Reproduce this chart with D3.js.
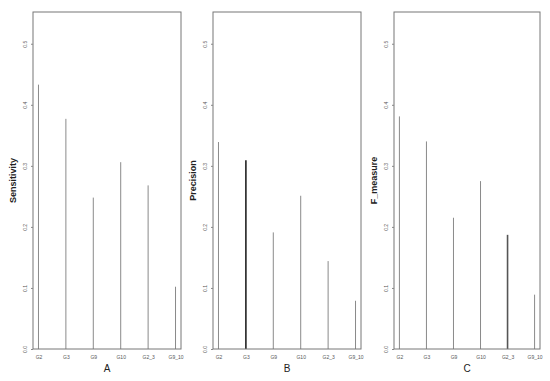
<!DOCTYPE html>
<html><head><meta charset="utf-8">
<script src="https://cdn.jsdelivr.net/npm/d3@7"></script>
<style>body{margin:0;background:#fff}svg{display:block}</style>
</head><body>
<svg id="c" width="550" height="381"></svg>
<script>
const categories = ["G2","G3","G9","G10","G2_3","G9_10"];
const sensitivity = [0.433,0.377,0.248,0.306,0.268,0.102];
const precision = [0.339,0.309,0.191,0.251,0.144,0.079];
const fmeasure = [0.381,0.340,0.215,0.275,0.187,0.089];
const yTicks = [0,0.1,0.2,0.3,0.4,0.5];
const panelNames = ["A","B","C"];
const yLabels = ["Sensitivity","Precision","F_measure"];

const panels = [
  {vals: sensitivity, left: 33, right: 181, hl: -1},
  {vals: precision, left: 213, right: 361, hl: 1},
  {vals: fmeasure, left: 394, right: 540, hl: 4}
];
const plotTop = 12, plotBottom = 349;
const svg = d3.select("#c");

panels.forEach((p, pi) => {
  const g = svg.append("g");
  const x = d3.scaleLinear().domain([0.8, 6.2]).range([p.left, p.right]);
  const y = d3.scaleLinear().domain([0, 0.552]).range([plotBottom, plotTop]);
  g.selectAll("line.bar").data(p.vals).join("line")
    .attr("x1", (d,i) => x(i+1)).attr("x2", (d,i) => x(i+1))
    .attr("y1", y(0)).attr("y2", d => y(d))
    .attr("stroke", (d,i) => i === p.hl ? (pi === 1 ? "#222" : "#555") : "#8a8a8a")
    .attr("stroke-width", (d,i) => i === p.hl ? 1.6 : 1);
  g.append("rect").attr("x", p.left).attr("y", plotTop)
    .attr("width", p.right - p.left).attr("height", plotBottom - plotTop)
    .attr("fill", "none").attr("stroke", "#777").attr("stroke-width", 1);
  const ya = g.append("g").attr("transform", `translate(${p.left},0)`)
    .call(d3.axisLeft(y).tickValues(yTicks).tickSize(2).tickFormat(d3.format(".1f")));
  ya.select(".domain").remove();
  ya.selectAll(".tick line").attr("stroke", "#888");
  ya.selectAll(".tick text").attr("font-family", "Liberation Sans, Arial, sans-serif")
    .attr("font-size", 5).attr("fill", "#555")
    .attr("transform", "rotate(-90)").attr("x", 0).attr("y", -6)
    .attr("dy", 0).attr("text-anchor", "middle");
  const xa = g.append("g").attr("transform", `translate(0,${plotBottom})`)
    .call(d3.axisBottom(x).tickValues([1,2,3,4,5,6]).tickSize(0)
      .tickFormat((d) => categories[d-1]));
  xa.select(".domain").remove();
  xa.selectAll(".tick text").attr("font-family", "Liberation Sans, Arial, sans-serif")
    .attr("font-size", 5).attr("fill", "#555").attr("y", 8).attr("dy", "0.35em");
  g.append("text").attr("x", (p.left + p.right) / 2).attr("y", 372)
    .attr("text-anchor", "middle").attr("font-family", "Liberation Sans, Arial, sans-serif")
    .attr("font-size", 10).attr("fill", "#222").text(panelNames[pi]);
  g.append("text")
    .attr("transform", `translate(${p.left - 17},${(plotTop + plotBottom) / 2}) rotate(-90)`)
    .attr("text-anchor", "middle").attr("font-family", "Liberation Sans, Arial, sans-serif")
    .attr("font-size", 9).attr("font-weight", "bold").attr("fill", "#222").text(yLabels[pi]);
});
</script>
</body></html>
